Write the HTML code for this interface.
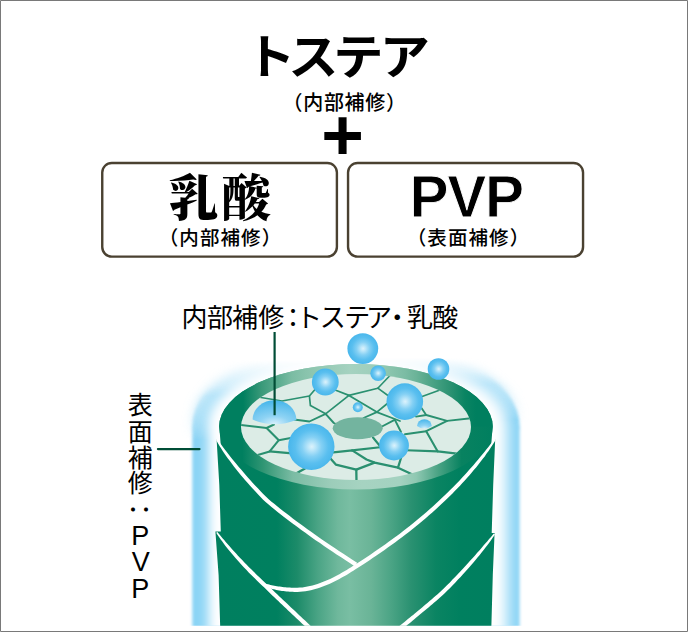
<!DOCTYPE html>
<html lang="ja">
<head>
<meta charset="utf-8">
<title>トステア + 乳酸 + PVP</title>
<style>
html,body{margin:0;padding:0;background:#fff;}
body{width:688px;height:632px;overflow:hidden;position:relative;}
svg{position:absolute;left:0;top:0;display:block;}
.sans{font-family:"Liberation Sans","Noto Sans CJK JP",sans-serif;}
.serif{font-family:"Liberation Serif","Noto Serif CJK SC",serif;}
</style>
</head>
<body>
<svg width="688" height="632" viewBox="0 0 688 632">
<defs>
  <linearGradient id="gBody" gradientUnits="userSpaceOnUse" x1="217" y1="0" x2="495" y2="0">
    <stop offset="0" stop-color="#007f5f"/>
    <stop offset="0.216" stop-color="#00805f"/>
    <stop offset="0.288" stop-color="#1c8b69"/>
    <stop offset="0.363" stop-color="#4aa485"/>
    <stop offset="0.435" stop-color="#6fb89c"/>
    <stop offset="0.478" stop-color="#79bea3"/>
    <stop offset="0.554" stop-color="#6ab497"/>
    <stop offset="0.626" stop-color="#4ba485"/>
    <stop offset="0.698" stop-color="#2a9171"/>
    <stop offset="0.788" stop-color="#0a8462"/>
    <stop offset="0.874" stop-color="#00805f"/>
    <stop offset="1" stop-color="#007f5f"/>
  </linearGradient>
  <linearGradient id="gRing" gradientUnits="userSpaceOnUse" x1="219" y1="0" x2="493" y2="0">
    <stop offset="0" stop-color="#007f5f"/>
    <stop offset="0.085" stop-color="#007f5f"/>
    <stop offset="0.16" stop-color="#2f9573"/>
    <stop offset="0.27" stop-color="#7bbca4"/>
    <stop offset="0.41" stop-color="#9ccdba"/>
    <stop offset="0.52" stop-color="#a6d3c1"/>
    <stop offset="0.66" stop-color="#a4d2c0"/>
    <stop offset="0.72" stop-color="#8fc8b2"/>
    <stop offset="0.80" stop-color="#4aa384"/>
    <stop offset="0.885" stop-color="#088260"/>
    <stop offset="1" stop-color="#007f5f"/>
  </linearGradient>
  <linearGradient id="gRingTop" gradientUnits="userSpaceOnUse" x1="219" y1="0" x2="493" y2="0">
    <stop offset="0.000" stop-color="#007f5f"/>
    <stop offset="0.088" stop-color="#007f5f"/>
    <stop offset="0.157" stop-color="#3b9a7a"/>
    <stop offset="0.223" stop-color="#5fae92"/>
    <stop offset="0.266" stop-color="#7bbca3"/>
    <stop offset="0.314" stop-color="#88c3ac"/>
    <stop offset="0.369" stop-color="#93c9b4"/>
    <stop offset="0.478" stop-color="#a5d2c0"/>
    <stop offset="0.551" stop-color="#9fcfbc"/>
    <stop offset="0.613" stop-color="#8cc6af"/>
    <stop offset="0.679" stop-color="#7bbca4"/>
    <stop offset="0.721" stop-color="#6bb398"/>
    <stop offset="0.763" stop-color="#52a78a"/>
    <stop offset="0.843" stop-color="#2c9272"/>
    <stop offset="0.898" stop-color="#0a8462"/>
    <stop offset="0.938" stop-color="#007f5f"/>
    <stop offset="1.000" stop-color="#007f5f"/>
  </linearGradient>
  <clipPath id="cTopHalf"><rect x="200" y="350" width="320" height="76.7"/></clipPath>
  <radialGradient id="gBub" cx="0.51" cy="0.5" r="0.5">
    <stop offset="0" stop-color="#dcf2fc"/>
    <stop offset="0.13" stop-color="#c2e9fa"/>
    <stop offset="0.42" stop-color="#84d0f4"/>
    <stop offset="0.72" stop-color="#5abfef"/>
    <stop offset="1" stop-color="#49b7ec"/>
  </radialGradient>
  <radialGradient id="gDome" cx="0.5" cy="1" r="1" gradientTransform="matrix(1 0 0 1 0 0)">
    <stop offset="0" stop-color="#d9f1fc"/>
    <stop offset="0.35" stop-color="#8ed3f4"/>
    <stop offset="1" stop-color="#45b5ea"/>
  </radialGradient>
  <linearGradient id="gFadeA" gradientUnits="userSpaceOnUse" x1="0" y1="372" x2="0" y2="420">
    <stop offset="0.000" stop-color="#000000"/>
    <stop offset="1.000" stop-color="#ffffff"/>
  </linearGradient>
  <linearGradient id="gFadeAL" gradientUnits="userSpaceOnUse" x1="0" y1="386" x2="0" y2="440">
    <stop offset="0.000" stop-color="#000000"/>
    <stop offset="1.000" stop-color="#ffffff"/>
  </linearGradient>
  <linearGradient id="gFadeB" gradientUnits="userSpaceOnUse" x1="0" y1="350" x2="0" y2="424">
    <stop offset="0.000" stop-color="#000000"/>
    <stop offset="0.108" stop-color="#000000"/>
    <stop offset="0.270" stop-color="#4c4c4c"/>
    <stop offset="0.473" stop-color="#999999"/>
    <stop offset="0.676" stop-color="#6b6b6b"/>
    <stop offset="1.000" stop-color="#000000"/>
  </linearGradient>
  <linearGradient id="gFadeBL" gradientUnits="userSpaceOnUse" x1="0" y1="350" x2="0" y2="440">
    <stop offset="0.000" stop-color="#000000"/>
    <stop offset="0.111" stop-color="#000000"/>
    <stop offset="0.289" stop-color="#454545"/>
    <stop offset="0.511" stop-color="#999999"/>
    <stop offset="0.733" stop-color="#666666"/>
    <stop offset="1.000" stop-color="#000000"/>
  </linearGradient>
  <filter id="blur2" x="-20%" y="-20%" width="140%" height="140%"><feGaussianBlur stdDeviation="1.4"/></filter>
  <filter id="blur9" x="-20%" y="-20%" width="140%" height="140%"><feGaussianBlur stdDeviation="7"/></filter>
  <filter id="blur8" x="-20%" y="-20%" width="140%" height="140%"><feGaussianBlur stdDeviation="5.2"/></filter>
  <mask id="mGlowA" maskUnits="userSpaceOnUse" x="150" y="300" width="420" height="340">
    <rect x="150" y="300" width="206" height="340" fill="url(#gFadeAL)"/>
    <rect x="356" y="300" width="214" height="340" fill="url(#gFadeA)"/>
  </mask>
  <mask id="mGlowB" maskUnits="userSpaceOnUse" x="150" y="300" width="420" height="340">
    <rect x="150" y="300" width="206" height="340" fill="url(#gFadeBL)"/>
    <rect x="356" y="300" width="214" height="340" fill="url(#gFadeB)"/>
  </mask>
  <filter id="blur6" x="-20%" y="-20%" width="140%" height="140%"><feGaussianBlur stdDeviation="5.5"/></filter>
  <clipPath id="cBottom"><rect x="0" y="0" width="688" height="625.7"/></clipPath>
  <clipPath id="cInner"><ellipse cx="356" cy="427" rx="115" ry="53"/></clipPath>
</defs>

<!-- page frame -->
<rect x="0" y="0" width="688" height="632" fill="#fff"/>

<!-- glow -->
<g clip-path="url(#cBottom)">
 <g mask="url(#mGlowA)">
  <g filter="url(#blur2)" fill="#8bd4f5">
    <ellipse cx="355.95" cy="426" rx="163.65" ry="86"/>
    <rect x="192.3" y="426" width="327.3" height="230"/>
  </g>
 </g>
 <g mask="url(#mGlowB)">
  <g filter="url(#blur6)" fill="#8bd4f5">
    <ellipse cx="355.95" cy="426" rx="163.65" ry="86"/>
    <rect x="192.3" y="426" width="327.3" height="230"/>
  </g>
 </g>
 <g filter="url(#blur8)" fill="#fff">
    <ellipse cx="340" cy="426" rx="131.5" ry="65"/>
    <rect x="208.5" y="426" width="200" height="230"/>
 </g>
 <g filter="url(#blur9)" fill="#fff">
    <ellipse cx="375" cy="426" rx="132" ry="65"/>
    <rect x="320" y="426" width="187" height="230"/>
 </g>
</g>

<!-- cylinder -->
<g id="cyl" clip-path="url(#cBottom)">
  <path d="M219.3 426.7 L220.8 445.9 L216.6 439.3 L218 463 L219.3 485 L220.8 531.5 L215.4 531.5 L218.6 575 L220.6 640 L491 640 L492.8 575 L494.6 533 L491.7 533 L493.2 485 L495.2 439.3 L491.2 445.4 L492.6 426.7 Z" fill="url(#gBody)"/>
  <ellipse cx="355.95" cy="426.7" rx="136.8" ry="62.7" fill="url(#gRing)"/>
  <ellipse cx="355.95" cy="426.7" rx="136.8" ry="62.7" fill="url(#gRingTop)" clip-path="url(#cTopHalf)"/>
  <ellipse cx="356" cy="427" rx="115" ry="53" fill="#dcece6"/>
</g>

<!-- cracks on the cut surface -->
<g id="cracks" clip-path="url(#cInner)" fill="none" stroke="#2a9070" stroke-width="1.9" stroke-linejoin="round" stroke-linecap="round">
  <path d="M240 424.8 L266.6 428 L274 424.5" stroke-width="1.94"/>
  <path d="M266.6 428 L278.8 440.2 L269.7 451.4 L256 455.5" stroke-width="2.09"/>
  <path d="M278.8 440.2 L292 437.8" stroke-width="2.05"/>
  <path d="M269.7 451.4 L292 453.4" stroke-width="2.16"/>
  <path d="M258 397 L282 401 L309.4 396 L318 386" stroke-width="1.68"/>
  <path d="M309.4 396 L310.4 405.6 L325.6 413.8 L349 395.4 L335.8 390.3 L328 386" stroke-width="1.70"/>
  <path d="M294 419.5 L309.4 421.5 L325.6 413.8 L333.8 423 L338 425" stroke-width="1.89"/>
  <path d="M349 395.4 L377.8 388.2 L390 375.5" stroke-width="1.60"/>
  <path d="M377.8 388.2 L390 397" stroke-width="1.66"/>
  <path d="M349 395.4 L376.8 412.1 L400 421" stroke-width="1.80"/>
  <path d="M376.8 412.1 L388 403" stroke-width="1.78"/>
  <path d="M376.8 412.1 L363.5 418" stroke-width="1.85"/>
  <path d="M420 397.3 L440 390" stroke-width="1.66"/>
  <path d="M421.5 408 L426.2 415 L447.1 420.9 L471 418.2" stroke-width="1.85"/>
  <path d="M426.2 415 L416 416.6" stroke-width="1.85"/>
  <path d="M447.1 420.9 L426.2 431.2 L405 434.3" stroke-width="1.96"/>
  <path d="M426.2 431.2 L437.7 451.4 L457 453.6" stroke-width="2.10"/>
  <path d="M437.7 451.4 L406 450.2" stroke-width="2.15"/>
  <path d="M395.1 419.7 L381 427" stroke-width="1.92"/>
  <path d="M394.9 419.9 L401 432" stroke-width="1.94"/>
  <path d="M401 458 L398 467.7 L412.5 474.5" stroke-width="2.28"/>
  <path d="M398 467.7 L374.6 462.6 L366.5 459.5 L352.2 450.4 L331 452.6" stroke-width="2.21"/>
  <path d="M352.2 450.4 L380 447.2" stroke-width="2.13"/>
  <path d="M373 437.5 L379.5 445.5" stroke-width="2.07"/>
  <path d="M374.6 462.6 L356.3 469.7 L356.5 481" stroke-width="2.32"/>
  <path d="M356.3 469.7 L335.8 464.6 L330 458" stroke-width="2.26"/>
  <path d="M305 468.5 L296 473.5" stroke-width="2.32"/>
</g>
<ellipse cx="357.7" cy="428.2" rx="25" ry="11" fill="#73b49f"/>

<!-- droplets -->
<g id="drops">
  <circle cx="362.8" cy="348.6" r="15.4" fill="url(#gBub)"/>
  <circle cx="325.3" cy="382" r="13.4" fill="url(#gBub)"/>
  <circle cx="378.1" cy="373.2" r="7.8" fill="url(#gBub)"/>
  <circle cx="438.5" cy="369" r="10.8" fill="url(#gBub)"/>
  <circle cx="404.8" cy="401.6" r="18.3" fill="url(#gBub)"/>
  <circle cx="357.8" cy="407.2" r="5" fill="url(#gBub)"/>
  <circle cx="311.3" cy="446.7" r="23.2" fill="url(#gBub)"/>
  <circle cx="394" cy="445.5" r="14.9" fill="url(#gBub)"/>
  <path d="M252.6 419.6 A21.9 19.6 0 0 1 296.4 420 Q274 428.6 252.6 419.6 Z" fill="url(#gDome)"/>
  <path d="M417 426 A7.4 6.8 0 0 1 431.8 426 Q424.4 431 417 426 Z" fill="url(#gDome)"/>
</g>

<!-- cuticle lines -->
<g id="scales" clip-path="url(#cBottom)" fill="#fff" stroke="none">
  <path d="M216.0 439.7 L217.1 441.7 L218.4 443.9 L219.7 446.2 L221.2 448.5 L222.7 450.9 L224.4 453.4 L226.1 455.9 L227.9 458.5 L229.9 461.1 L231.9 463.8 L233.9 466.5 L236.1 469.2 L238.3 472.0 L240.5 474.7 L242.9 477.5 L245.2 480.3 L247.7 483.1 L250.1 485.8 L252.6 488.6 L255.2 491.3 L257.7 494.0 L260.3 496.7 L262.9 499.4 L265.6 502.0 L268.6 504.5 L271.5 507.0 L274.6 509.5 L277.6 511.9 L280.8 514.4 L284.0 516.9 L287.3 519.4 L290.6 522.0 L294.0 524.5 L297.5 527.1 L301.0 529.7 L304.7 532.3 L308.4 535.0 L312.1 537.7 L316.0 540.4 L320.0 543.1 L324.0 545.9 L328.1 548.7 L332.3 551.5 L336.6 554.4 L341.1 557.3 L345.6 560.3 L350.2 563.3 L354.9 566.4 L357.1 562.8 L352.4 559.8 L347.9 556.8 L343.4 553.8 L339.0 550.9 L334.7 548.0 L330.5 545.2 L326.4 542.4 L322.3 539.7 L318.4 536.9 L314.6 534.2 L310.8 531.6 L307.1 528.9 L303.5 526.3 L300.0 523.7 L296.5 521.2 L293.1 518.7 L289.8 516.1 L286.5 513.6 L283.4 511.2 L280.2 508.7 L277.2 506.2 L274.2 503.8 L271.2 501.4 L268.4 499.0 L265.8 496.5 L263.2 493.9 L260.6 491.2 L258.1 488.6 L255.6 485.9 L253.0 483.2 L250.6 480.5 L248.1 477.7 L245.7 475.0 L243.4 472.3 L241.1 469.6 L238.8 467.0 L236.6 464.3 L234.5 461.7 L232.4 459.2 L230.4 456.7 L228.5 454.2 L226.6 451.8 L224.8 449.5 L223.1 447.2 L221.5 445.0 L220.0 442.9 L218.5 440.9 L217.2 438.9 Z"/>
  <path d="M494.6 438.9 L492.6 441.5 L490.6 444.1 L488.6 446.7 L486.5 449.3 L484.4 451.9 L482.3 454.5 L480.2 457.1 L478.0 459.7 L475.8 462.3 L473.6 464.9 L471.3 467.5 L469.0 470.1 L466.7 472.7 L464.4 475.2 L462.0 477.8 L459.6 480.4 L457.1 482.9 L454.7 485.5 L452.2 488.0 L449.6 490.5 L447.1 493.1 L444.5 495.6 L441.8 498.1 L439.2 500.6 L436.0 503.5 L432.8 506.5 L429.6 509.3 L426.3 512.2 L423.0 515.0 L419.7 517.8 L416.4 520.5 L413.1 523.2 L409.7 525.9 L406.4 528.6 L402.9 531.2 L399.5 533.9 L396.0 536.5 L392.5 539.1 L389.0 541.6 L385.4 544.2 L381.8 546.8 L378.1 549.3 L374.4 551.8 L370.7 554.4 L366.9 556.9 L363.1 559.4 L359.2 561.9 L355.3 564.4 L353.2 565.8 L351.1 567.2 L348.9 568.5 L346.7 569.9 L344.4 571.2 L342.1 572.6 L339.8 573.9 L337.4 575.2 L335.0 576.5 L332.6 577.7 L330.1 578.9 L327.6 580.0 L325.1 581.1 L322.6 582.1 L320.1 583.1 L317.5 584.0 L315.0 584.8 L312.5 585.5 L309.9 586.1 L307.4 586.6 L304.9 587.1 L302.4 587.4 L299.9 587.6 L297.3 587.7 L295.8 587.7 L294.3 587.7 L292.8 587.7 L291.3 587.7 L289.8 587.6 L288.4 587.5 L286.9 587.4 L285.4 587.3 L284.0 587.2 L282.5 587.0 L281.1 586.8 L279.7 586.6 L278.3 586.4 L277.0 586.2 L275.6 586.0 L274.3 585.7 L273.0 585.5 L271.7 585.2 L270.4 584.9 L269.2 584.6 L268.0 584.3 L266.8 584.0 L265.6 583.7 L264.4 583.4 L263.6 585.8 L264.7 586.3 L265.8 586.8 L267.0 587.3 L268.3 587.7 L269.5 588.1 L270.8 588.5 L272.2 588.9 L273.5 589.3 L274.9 589.6 L276.3 589.9 L277.7 590.2 L279.1 590.5 L280.6 590.7 L282.0 590.9 L283.5 591.1 L285.0 591.3 L286.5 591.4 L288.1 591.6 L289.6 591.7 L291.2 591.8 L292.7 591.8 L294.3 591.9 L295.9 591.9 L297.5 591.9 L300.1 591.8 L302.8 591.6 L305.5 591.2 L308.2 590.8 L310.9 590.2 L313.5 589.5 L316.2 588.8 L318.9 587.9 L321.5 587.0 L324.1 586.0 L326.7 585.0 L329.3 583.9 L331.9 582.7 L334.4 581.5 L336.9 580.2 L339.4 578.9 L341.8 577.6 L344.2 576.2 L346.6 574.9 L348.9 573.5 L351.1 572.1 L353.3 570.7 L355.5 569.3 L357.5 568.0 L361.5 565.4 L365.4 562.9 L369.2 560.4 L373.0 557.8 L376.8 555.3 L380.5 552.8 L384.2 550.2 L387.8 547.6 L391.4 545.0 L395.0 542.4 L398.5 539.8 L402.0 537.2 L405.5 534.6 L408.9 531.9 L412.3 529.2 L415.7 526.5 L419.1 523.7 L422.4 521.0 L425.7 518.2 L429.0 515.3 L432.3 512.4 L435.6 509.5 L438.8 506.6 L442.0 503.6 L444.7 501.1 L447.3 498.5 L449.9 496.0 L452.5 493.4 L455.0 490.8 L457.5 488.2 L460.0 485.7 L462.4 483.0 L464.8 480.4 L467.2 477.8 L469.5 475.2 L471.8 472.5 L474.0 469.8 L476.3 467.2 L478.4 464.5 L480.5 461.8 L482.6 459.1 L484.7 456.4 L486.6 453.6 L488.6 450.9 L490.5 448.1 L492.3 445.3 L494.1 442.5 L495.8 439.7 Z"/>
  <path d="M216.2 532.8 L217.3 534.5 L218.5 536.2 L219.7 538.0 L220.9 539.8 L222.3 541.6 L223.7 543.5 L225.1 545.4 L226.7 547.4 L228.3 549.4 L230.0 551.5 L231.7 553.6 L233.6 555.8 L235.5 558.0 L237.5 560.3 L239.5 562.6 L241.7 565.0 L244.0 567.4 L246.3 569.8 L248.7 572.4 L251.3 574.9 L253.9 577.5 L256.6 580.2 L259.4 582.9 L262.3 585.7 L264.3 587.6 L266.3 589.6 L268.3 591.5 L270.3 593.4 L272.3 595.4 L274.3 597.3 L276.3 599.2 L278.3 601.0 L280.2 602.9 L282.2 604.8 L284.2 606.7 L286.2 608.5 L288.1 610.4 L290.1 612.3 L292.1 614.2 L294.1 616.0 L296.1 617.9 L298.1 619.8 L300.2 621.7 L302.2 623.7 L304.3 625.6 L306.4 627.6 L308.4 629.5 L310.6 631.5 L313.4 628.5 L311.3 626.5 L309.2 624.5 L307.1 622.6 L305.1 620.6 L303.0 618.7 L301.0 616.8 L299.0 614.9 L297.0 613.0 L295.0 611.1 L293.0 609.2 L291.0 607.4 L289.0 605.5 L287.0 603.6 L285.1 601.8 L283.1 599.9 L281.1 598.0 L279.1 596.2 L277.2 594.3 L275.2 592.4 L273.2 590.5 L271.2 588.6 L269.2 586.6 L267.1 584.7 L265.1 582.7 L262.2 580.0 L259.4 577.3 L256.6 574.7 L254.0 572.1 L251.5 569.6 L249.0 567.2 L246.7 564.8 L244.4 562.4 L242.2 560.1 L240.1 557.9 L238.0 555.7 L236.1 553.6 L234.2 551.5 L232.3 549.5 L230.6 547.5 L228.9 545.6 L227.3 543.7 L225.7 541.9 L224.2 540.1 L222.7 538.4 L221.3 536.7 L219.9 535.1 L218.6 533.5 L217.4 532.0 Z"/>
  <path d="M493.8 533.6 L492.4 535.3 L490.8 537.2 L489.1 539.1 L487.4 541.2 L485.5 543.3 L483.5 545.6 L481.5 547.9 L479.4 550.4 L477.2 552.8 L475.0 555.4 L472.7 558.0 L470.3 560.6 L467.9 563.3 L465.4 566.0 L462.9 568.7 L460.3 571.4 L457.7 574.2 L455.1 576.9 L452.5 579.6 L449.9 582.4 L447.2 585.0 L444.5 587.7 L441.9 590.3 L439.2 592.8 L437.3 594.5 L435.4 596.1 L433.4 597.8 L431.5 599.4 L429.6 601.1 L427.7 602.7 L425.8 604.3 L424.0 605.8 L422.1 607.4 L420.3 608.9 L418.4 610.4 L416.6 611.9 L414.8 613.4 L413.1 614.9 L411.3 616.3 L409.6 617.7 L407.9 619.1 L406.2 620.5 L404.5 621.9 L402.9 623.2 L401.3 624.5 L399.7 625.8 L398.2 627.1 L396.7 628.4 L399.3 631.6 L400.9 630.4 L402.4 629.1 L404.0 627.8 L405.6 626.5 L407.2 625.1 L408.9 623.7 L410.5 622.4 L412.2 621.0 L414.0 619.5 L415.7 618.1 L417.5 616.6 L419.3 615.1 L421.1 613.6 L422.9 612.1 L424.8 610.6 L426.6 609.0 L428.5 607.4 L430.4 605.8 L432.3 604.2 L434.2 602.6 L436.1 600.9 L438.1 599.2 L440.0 597.6 L442.0 595.8 L444.7 593.2 L447.4 590.6 L450.1 587.9 L452.7 585.2 L455.4 582.4 L458.0 579.6 L460.6 576.9 L463.2 574.1 L465.7 571.3 L468.2 568.5 L470.6 565.7 L473.0 563.0 L475.3 560.2 L477.5 557.6 L479.7 554.9 L481.8 552.3 L483.8 549.8 L485.7 547.3 L487.5 545.0 L489.2 542.7 L490.8 540.4 L492.3 538.3 L493.7 536.3 L495.0 534.4 Z"/>
</g>

<!-- leader lines -->
<g stroke="#004d36" stroke-width="2.2" fill="none">
  <path d="M274.6 332 L274.6 415.2"/>
  <path d="M157.9 449.1 L199.5 449.1" stroke-linecap="round"/>
</g>

<!-- boxes -->
<rect x="102.25" y="162.95" width="234.65" height="93.65" rx="9.6" ry="9.6" fill="#fff" stroke="#4a4131" stroke-width="2.4"/>
<rect x="348.05" y="162.95" width="235" height="93.65" rx="9.6" ry="9.6" fill="#fff" stroke="#4a4131" stroke-width="2.4"/>

<!-- plus -->
<text id="tplus" x="321.3" y="159.6" font-family='"Liberation Sans",sans-serif' font-weight="700" font-size="73" fill="#000">+</text>

<!-- headings -->
<text id="t1" class="sans" transform="scale(1.055 1)" x="232.5 273.3 316 359.9" y="74.4" font-size="47.6" font-weight="700" fill="#000">トステア</text>
<text id="t2" class="sans" font-weight="500" x="344.6" y="109.6" font-size="20" text-anchor="middle" fill="#000" letter-spacing="0.7">（内部補修）</text>
<text id="t3" class="serif" x="168.8 221.4" y="216.1" font-size="49.5" font-weight="900" fill="#000">乳酸</text>
<text id="t4" class="sans" font-weight="500" x="220.5" y="244.6" font-size="19.5" text-anchor="middle" fill="#000" letter-spacing="1.1">（内部補修）</text>
<text id="t5" class="sans" x="409.6" y="216.7" font-size="58.6" font-weight="700" letter-spacing="-1.4" fill="#000" stroke="#fff" stroke-width="0.9">PVP</text>
<text id="t6" class="sans" font-weight="500" x="468.5" y="244.6" font-size="19.5" text-anchor="middle" fill="#000" letter-spacing="1.1">（表面補修）</text>

<!-- diagram labels -->
<text id="t7" class="sans" y="327.4" font-size="26" fill="#000"><tspan x="181.5 207 232 258.15 279.9">内部補修：</tspan><tspan x="296 319.7 344.3 365.9 384.15 407.05 432.3">トステア・乳酸</tspan></text>
<g id="t8" class="sans" font-size="25" fill="#000" text-anchor="middle">
  <text x="140.3" y="413.8">表</text>
  <text x="140.3" y="440.7">面</text>
  <text x="140.3" y="467.2">補</text>
  <text x="140.3" y="492.2">修</text>
  <text transform="translate(140.15 509.5) rotate(90)" x="0" y="9.9" font-size="26.5">：</text>
  <text x="140.3" y="545.3" font-size="27">P</text>
  <text x="140.75" y="571.4" font-size="27">V</text>
  <text x="140.3" y="597.7" font-size="27">P</text>
</g>

<!-- frame border -->
<path d="M0.5 0.5 H687.5 V631.5 H0.5 Z" fill="none" stroke="#797979" stroke-width="1"/>

</svg>
</body>
</html>
